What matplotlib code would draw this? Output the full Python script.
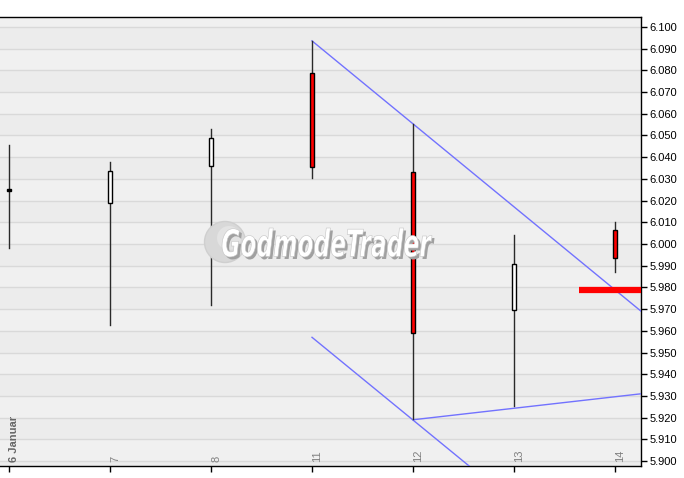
import matplotlib
matplotlib.use("Agg")
import matplotlib.pyplot as plt
from matplotlib.patches import Rectangle, Circle, PathPatch
from matplotlib.textpath import TextPath
from matplotlib.font_manager import FontProperties
from matplotlib.transforms import Affine2D, IdentityTransform, offset_copy, blended_transform_factory
import numpy as np

# candle data
days = ["6 Januar", "7", "8", "11", "12", "13", "14"]
opens = [6.0252, 6.0190, 6.0360, 6.0788, 6.0333, 5.9694, 6.0066]
closes = [6.0243, 6.0338, 6.0489, 6.0356, 5.9588, 5.9910, 5.9937]
highs = [6.0457, 6.0379, 6.0531, 6.0936, 6.0554, 6.0043, 6.0103]
lows = [5.9983, 5.9625, 5.9717, 6.0305, 5.9192, 5.9252, 5.9873]

# trend lines (index, price)
trend_a_x = [3, 6.3]
trend_a_y = [6.0936, 5.9674]
trend_b_x = [3, 4.6]
trend_b_y = [5.957, 5.896]
trend_c_x = [4, 6.3]
trend_c_y = [5.919, 5.9312]

# red target level
level_x = [5.64, 6.3]
level_y = 5.9788

ymin, ymax = 5.8977, 6.1046
yticks = np.arange(5.900, 6.1001, 0.01)

W, H = 684, 478
fig = plt.figure(figsize=(W / 100, H / 100), dpi=100)
fig.patch.set_facecolor("white")
ax = fig.add_axes([0, 12 / H, 641 / W, (466 - 17) / H])
ax.set_facecolor("#eeeeee")
ax.set_xlim(-0.089, 6.257)
ax.set_ylim(ymin, ymax)

# alternating bands + grid
edges = np.concatenate([[ymin], yticks, [ymax]])
for k in range(len(edges) - 1):
    ax.axhspan(edges[k], edges[k + 1], color="#f0f0f0" if k % 2 else "#ececec", lw=0, zorder=0)
for t in yticks:
    ax.axhline(t, color="#d9d9d9", lw=1, zorder=1)

# watermark
cx, cy = 225, H - 242
fig.patches.append(Circle((cx, cy), 20.5, transform=IdentityTransform(), facecolor="#d8d8d8",
                          edgecolor="#cfcfcf", lw=1, zorder=2, figure=fig))
fig.patches.append(Circle((cx + 4, cy + 4), 12, transform=IdentityTransform(), facecolor="#e3e3e3",
                          edgecolor="none", zorder=2, figure=fig))
tp = TextPath((0, 0), "GodmodeTrader", size=40,
              prop=FontProperties(family="DejaVu Sans", weight="bold", style="italic"))
ext = tp.get_extents()
sx = 210 / ext.width
sy = 29 / ext.height
x0, y0 = 222, H - 257
for dx, dy, col in [(2.5, -2.5, "#a0a0a0"), (0, 0, "white")]:
    tr = Affine2D().translate(-ext.x0, -ext.y0).scale(sx, sy).translate(x0 + dx, y0 + dy)
    p = PathPatch(tr.transform_path(tp), transform=IdentityTransform(), facecolor=col,
                  edgecolor="#c4c4c4" if col == "white" else "none", lw=0.4, zorder=3, figure=fig)
    fig.patches.append(p)

# trend lines
for xs, ys in [(trend_a_x, trend_a_y), (trend_b_x, trend_b_y), (trend_c_x, trend_c_y)]:
    ax.plot(xs, ys, color="#7272ff", lw=1, zorder=4)

# candles
bw = 0.04
for i in range(len(days)):
    ax.plot([i, i], [lows[i], highs[i]], color="#2a2a2a", lw=1, zorder=5)
    lo = min(opens[i], closes[i])
    h = abs(closes[i] - opens[i])
    fc = "white" if closes[i] >= opens[i] else "#ff0000"
    if h < 0.001:
        fc = "black"
    ax.add_patch(Rectangle((i - bw / 2, lo), bw, h, facecolor=fc, edgecolor="black", lw=1, zorder=6))

ax.plot(level_x, [level_y, level_y], color="#ff0000", lw=4.5, solid_capstyle="butt", zorder=7)

# axes styling
ax.spines["left"].set_visible(False)
for s in ["top", "right", "bottom"]:
    ax.spines[s].set_color("black")
    ax.spines[s].set_linewidth(1)
ax.yaxis.tick_right()
ax.set_yticks(yticks)
ax.set_yticklabels([f"{t:.3f}" for t in yticks], fontsize=8, family="Liberation Sans")
ax.tick_params(axis="y", direction="out", length=4, width=1, pad=2, colors="black")
ax.set_xticks(range(len(days)))
ax.set_xticklabels([])
ax.tick_params(axis="x", direction="out", length=4, width=1, colors="black")

btr = blended_transform_factory(ax.transData, ax.transAxes)
for i, d in enumerate(days):
    tr = offset_copy(btr, fig=fig, x=5, y=4, units="dots")
    if i == 0:
        ax.text(i, 0, d, transform=tr, rotation=90, ha="center", va="bottom",
                fontsize=8, fontweight="bold", color="#666666", family="Liberation Sans", zorder=8)
    else:
        ax.text(i, 0, d, transform=tr, rotation=90, ha="center", va="bottom",
                fontsize=8, color="#808080", family="Liberation Sans", zorder=8)

fig.savefig("out.png", dpi=100)
